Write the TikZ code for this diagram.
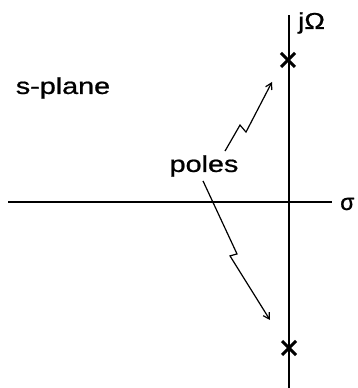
\documentclass[tikz,border=0pt]{standalone}
\usepackage{fontspec}
\setmainfont{Liberation Sans}[FakeBold=0.8]
\usetikzlibrary{arrows.meta, positioning, shapes.misc}
\tikzset{
  axis/.style={line width=2.8pt},
  pole/.style={cross out, draw, line width=3pt, minimum size=11pt,
    inner sep=0pt},
  lbl/.style={inner sep=0pt, font=\fontsize{23}{27}\selectfont},
  zap/.style={-{Straight Barb[length=6pt, width=7pt]}, line width=1.2pt}
}
\begin{document}
\begin{tikzpicture}[x=1pt, y=1pt]
  \useasboundingbox (0,0) rectangle (357,388);
  % axes
  \coordinate (origin) at (289,186);
  \coordinate (xend) at (332,186);
  \coordinate (xstart) at (8,186);
  \coordinate (ytop) at (289,373);
  \coordinate (ybot) at (289,0);
  \draw[axis] (xstart) -- (xend);
  \draw[axis] (ybot) -- (ytop);
  \node[lbl, right=8pt of xend, yshift=-2pt] (sigma) {σ};
  \node[lbl, anchor=west] (jomega) at (298,365) {\scalebox{1.2}[1]{jΩ}};
  % poles
  \node[pole] (ptop) at (288,328) {};
  \node[pole] (pbot) at (289,40) {};
  \node[lbl] (splane) at (63,300) {\scalebox{1.25}[1]{s-plane}};
  \node[lbl] (poles) at (204,222) {\scalebox{1.25}[1]{poles}};
  % arrows
  \coordinate (tip1) at (272,306);
  \coordinate (tip2) at (270,68);
  \draw[zap] ([xshift=21pt, yshift=4pt]poles.north) -- ++(15,26) -- ++(6,-7) -- (tip1);
  \draw[zap] ([xshift=-1pt, yshift=-4pt]poles.south) -- ++(34,-73) -- ++(-7,-2) -- (tip2);
\end{tikzpicture}
\end{document}
